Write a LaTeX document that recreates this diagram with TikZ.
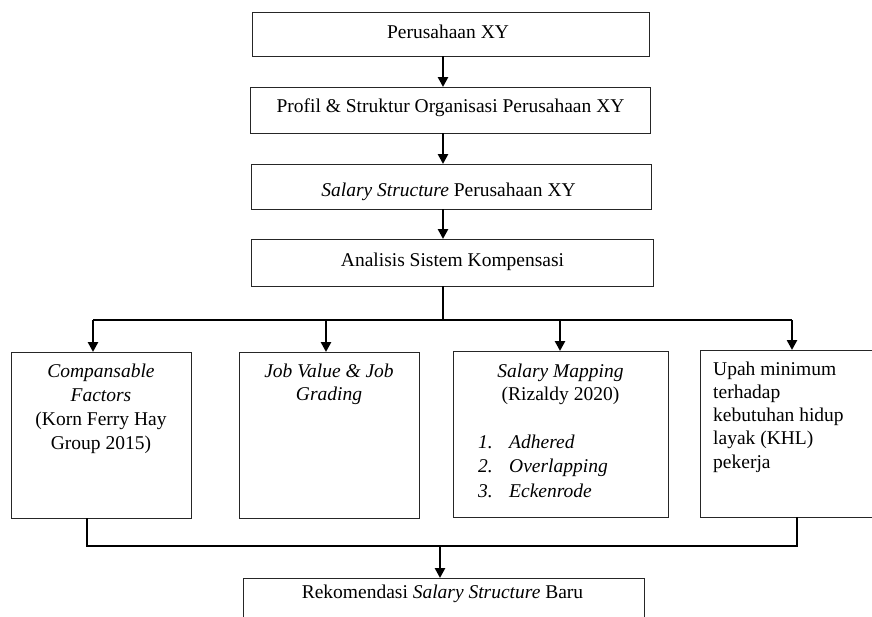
\documentclass[tikz,border=0pt]{standalone}
\usepackage{fontspec}
\setmainfont{Liberation Serif}
\usetikzlibrary{arrows.meta,calc}
\begin{document}
\begin{tikzpicture}[x=1pt,y=-1pt,
  box/.style={draw=black!85, line width=1pt, inner sep=0pt, outer sep=0pt, anchor=north west},
  arr/.style={line width=2.6pt, -{Triangle[length=10pt,width=10pt]}},
  busline/.style={line width=2pt},
  thinline/.style={line width=1.3pt},
  txt/.style={inner sep=0pt, font=\fontsize{19.5}{24}\selectfont}]
\useasboundingbox (0,0) rectangle (872,616);
\clip (0,0) rectangle (872,616);

% top chain boxes
\node[box, minimum width=397pt, minimum height=44pt] (p1) at (252,12) {};
\node[box, minimum width=400pt, minimum height=46pt] (p2) at (250,87) {};
\node[box, minimum width=400pt, minimum height=45pt] (p3) at (251,164) {};
\node[box, minimum width=402pt, minimum height=47pt] (p4) at (251,239) {};

\node[txt, anchor=base] (t1) at (448,38) {Perusahaan XY};
\node[txt, anchor=base] (t2) at (450.5,112) {Profil \& Struktur Organisasi Perusahaan XY};
\node[txt, anchor=base] (t3) at (448.5,196) {\textit{Salary Structure} Perusahaan XY};
\node[txt, anchor=base] (t4) at (452.5,266) {Analisis Sistem Kompensasi};

% bottom row boxes
\node[box, minimum width=180pt, minimum height=166pt] (b1) at (11,352) {};
\node[box, minimum width=180pt, minimum height=166pt] (b2) at (239,352) {};
\node[box, minimum width=215pt, minimum height=166pt] (b3) at (453,351) {};
\node[box, minimum width=180pt, minimum height=167pt] (b4) at (700,350) {};

\node[txt, anchor=base] (bt1) at (101,377) {\parbox[t]{170pt}{\centering\baselineskip=24pt
  \textit{Compansable}\\ \textit{Factors}\\ (Korn Ferry Hay\\ Group 2015)}};
\node[txt, anchor=base] (bt2) at (329,377) {\parbox[t]{170pt}{\centering\baselineskip=23.5pt
  \textit{Job Value \& Job}\\ \textit{Grading}}};
\node[txt, anchor=base] (bt3) at (560.5,377) {\parbox[t]{200pt}{\centering\baselineskip=23.5pt
  \textit{Salary Mapping}\\ (Rizaldy 2020)}};
\node[txt, anchor=base west] (bt3l) at (478,448) {\parbox[t]{180pt}{\raggedright\itshape\baselineskip=24.5pt
  \makebox[31pt][l]{1.}Adhered\\ \makebox[31pt][l]{2.}Overlapping\\ \makebox[31pt][l]{3.}Eckenrode}};
\node[txt, anchor=base west] (bt4) at (713,375) {\parbox[t]{160pt}{\raggedright\baselineskip=23.3pt
  Upah minimum\\ terhadap\\ kebutuhan hidup\\ layak (KHL)\\ pekerja}};

% final box
\node[box, minimum width=401pt, minimum height=60pt] (rek) at (243,578) {};
\node[txt, anchor=base] (rt) at (442.5,598) {Rekomendasi \textit{Salary Structure} Baru};

% coordinates for connectors
\coordinate (ax) at (443,0);
\coordinate (busT) at (0,320);
\coordinate (busB) at (0,546);
\coordinate (x1) at (93,0);
\coordinate (x2) at (326,0);
\coordinate (x3) at (560,0);
\coordinate (x4) at (792,0);
\coordinate (y1) at (87,0);
\coordinate (y4) at (797,0);
\coordinate (xr) at (440,0);

% top chain arrows
\draw[arr] (p1.south -| ax) -- (p2.north -| ax);
\draw[arr] (p2.south -| ax) -- (p3.north -| ax);
\draw[arr] (p3.south -| ax) -- (p4.north -| ax);

% distribution bus
\draw[thinline] (p4.south -| ax) -- (ax |- busT);
\draw[busline] (x1 |- busT) -- (x4 |- busT);
\draw[arr] (x1 |- busT) -- (b1.north -| x1);
\draw[arr] (x2 |- busT) -- (b2.north -| x2);
\draw[arr] (x3 |- busT) -- (b3.north -| x3);
\draw[arr] (x4 |- busT) -- (b4.north -| x4);

% collecting bus
\draw[busline] (b1.south -| y1) -- (y1 |- busB) -- (y4 |- busB) -- (b4.south -| y4);
\draw[arr] (xr |- busB) -- (rek.north -| xr);
\end{tikzpicture}
\end{document}
